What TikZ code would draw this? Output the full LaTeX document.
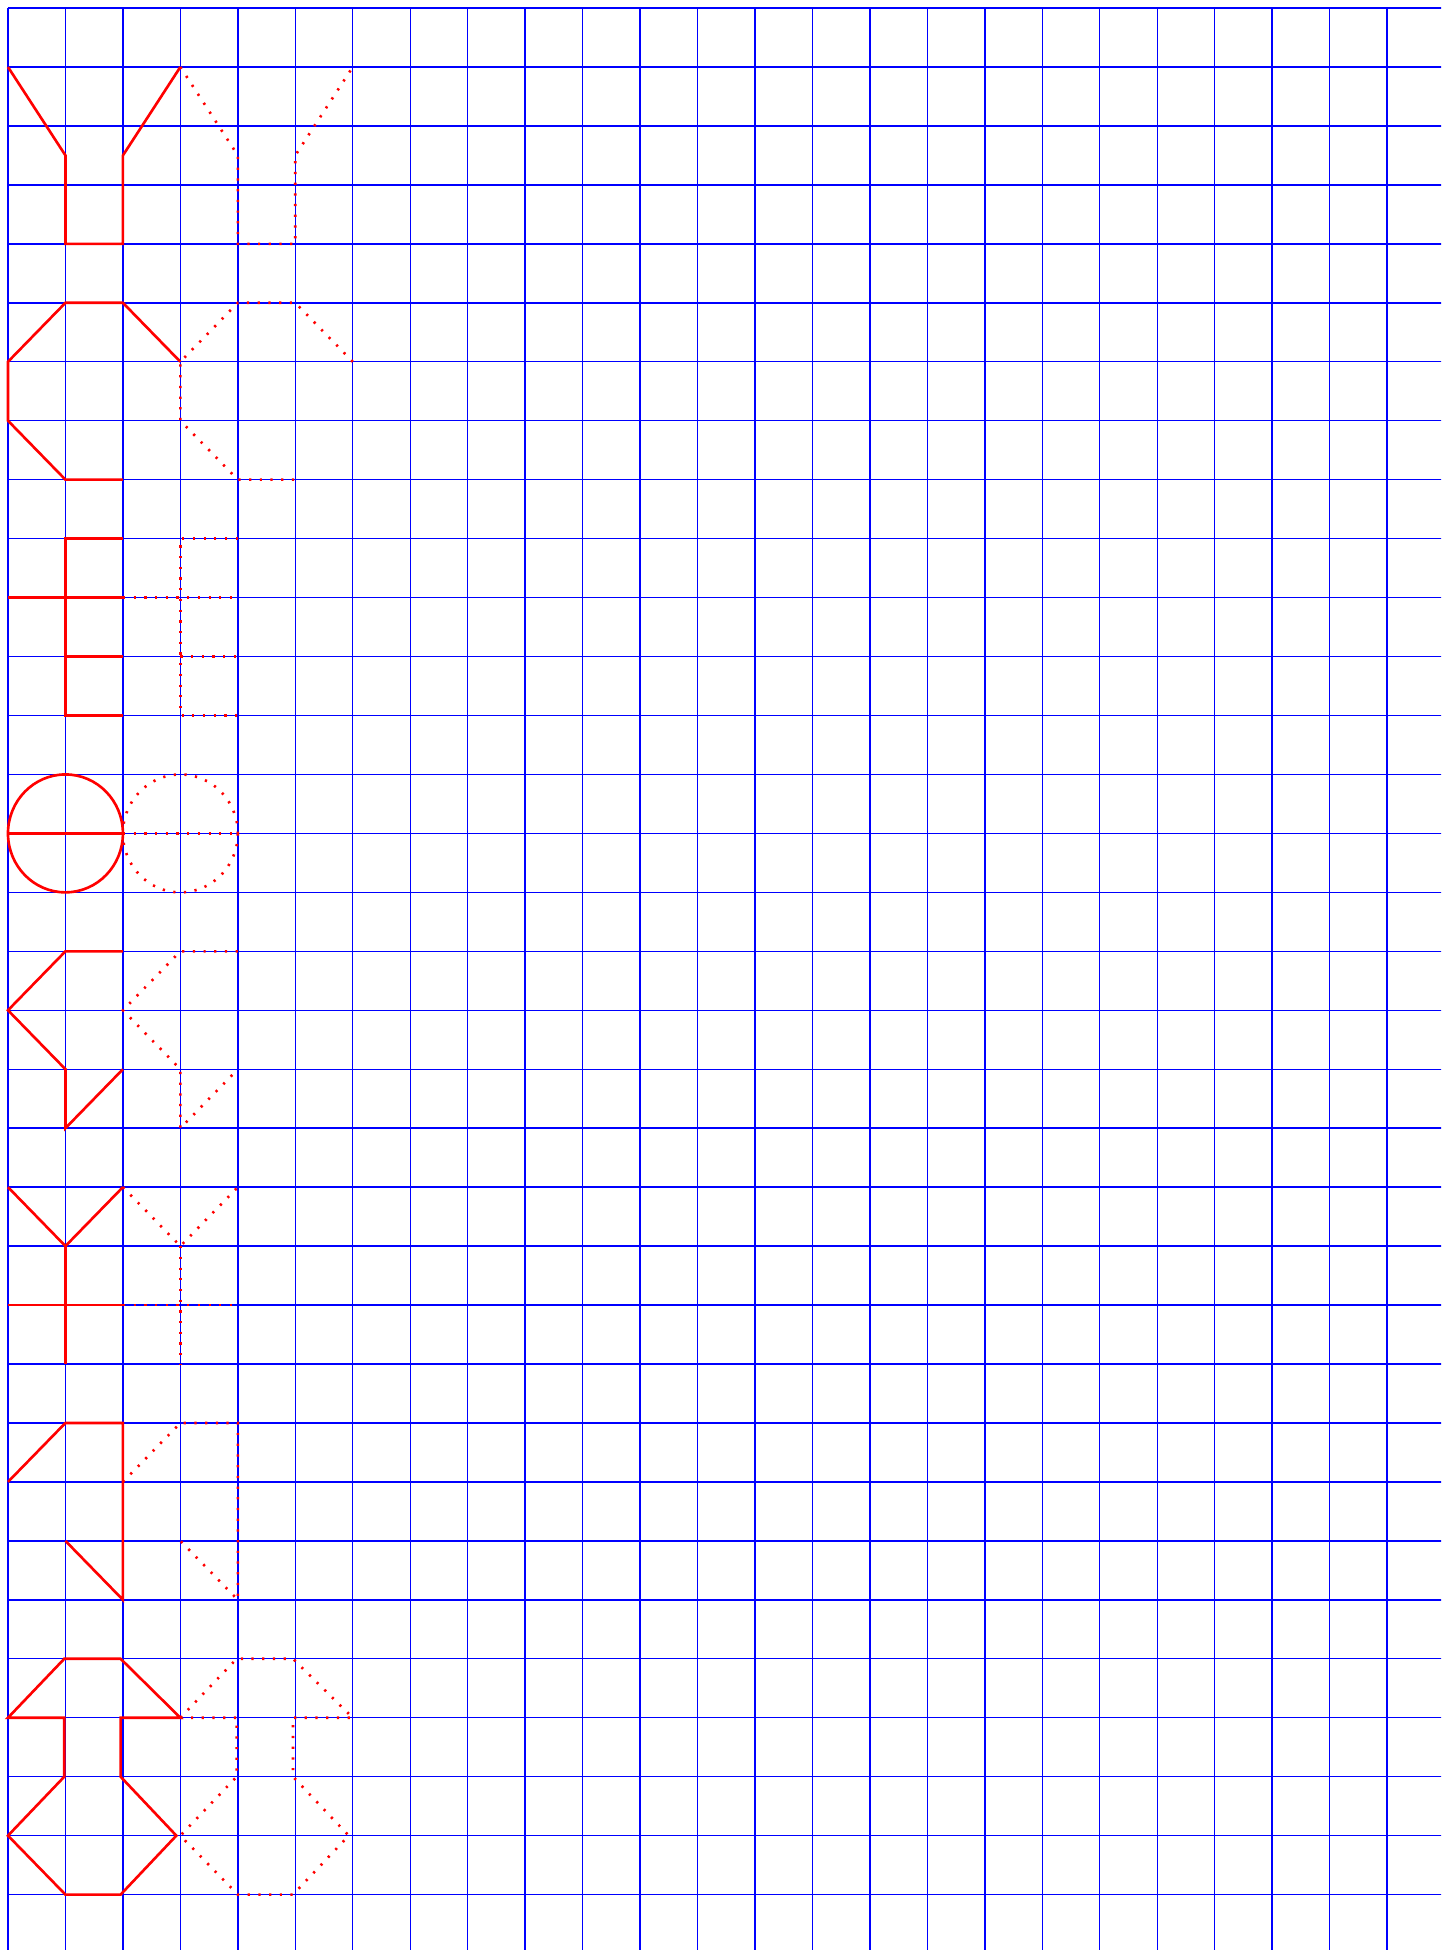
\documentclass[tikz,border=0pt]{standalone}
\usepackage{xcolor}
\usepackage{tikz}

\begin{document}
\begin{tikzpicture}[x=1cm, y=-1.026cm,
  gridline/.style={draw=blue, line width=0.7pt},
  letter/.style={draw=red, line width=1.3pt, line join=miter},
  lettercopy/.style={letter, dash pattern=on 1.1pt off 4.2pt}
]

  % Paper and squares
  \clip (-0.139,-0.136) rectangle (24.94,32.94);
  \draw [gridline, xstep=1cm, ystep=1.026cm] (0,0) grid (25,33);

  % First letter
  \draw [letter] (0,1) -- (1,2.5) -- (1,4) -- (2,4) -- (2,2.5) -- (3,1);
  \draw [lettercopy] (3,1) -- (4,2.5) -- (4,4) -- (5,4) -- (5,2.5) -- (6,1);

  % Second letter
  \draw [letter] (3,6) -- (2,5) -- (1,5) -- (0,6) -- (0,7) -- (1,8) -- (2,8);
  \draw [lettercopy] (6,6) -- (5,5) -- (4,5) -- (3,6) -- (3,7) -- (4,8) -- (5,8);

  % Third letter
  \draw [letter] (2,9) -- (1,9) -- (1,12) -- (2,12);
  \draw [letter] (0,10) -- (2,10);
  \draw [letter] (1,11) -- (2,11);
  \draw [lettercopy] (4,9) -- (3,9) -- (3,12) -- (4,12);
  \draw [lettercopy] (2,10) -- (4,10);
  \draw [lettercopy] (3,11) -- (4,11);

  % Fourth letter
  \draw [letter] (1,14) circle [radius=1];
  \draw [letter] (0,14) -- (2,14);
  \draw [lettercopy] (3,14) circle [radius=1];
  \draw [lettercopy] (2,14) -- (4,14);

  % Fifth letter
  \draw [letter] (2,16) -- (1,16) -- (0,17) -- (1,18) -- (1,19) -- (2,18);
  \draw [lettercopy] (4,16) -- (3,16) -- (2,17) -- (3,18) -- (3,19) -- (4,18);

  % Sixth letter
  \draw [letter] (0,20) -- (1,21) -- (2,20);
  \draw [letter] (1,21) -- (1,23);
  \draw [letter] (0,22) -- (2,22);
  \draw [lettercopy] (2,20) -- (3,21) -- (4,20);
  \draw [lettercopy] (3,21) -- (3,23);
  \draw [lettercopy] (2,22) -- (4,22);

  % Seventh letter
  \draw [letter] (0,25) -- (1,24) -- (2,24) -- (2,27) -- (1,26);
  \draw [lettercopy] (2,25) -- (3,24) -- (4,24) -- (4,27) -- (3,26);

  % Eighth letter
  \draw [letter] (0,29) -- (0.98,28) -- (1.96,28) -- (3,29) -- (1.96,29) -- (1.96,30)
    -- (2.93,31) -- (1.96,32) -- (1,32) -- (0,31) -- (0.98,30) -- (0.98,29) -- cycle;
  \draw [lettercopy] (3,29) -- (3.98,28) -- (4.96,28) -- (6,29) -- (4.96,29) -- (4.96,30)
    -- (5.93,31) -- (4.96,32) -- (4,32) -- (3,31) -- (3.98,30) -- (3.98,29) -- cycle;

\end{tikzpicture}
\end{document}
